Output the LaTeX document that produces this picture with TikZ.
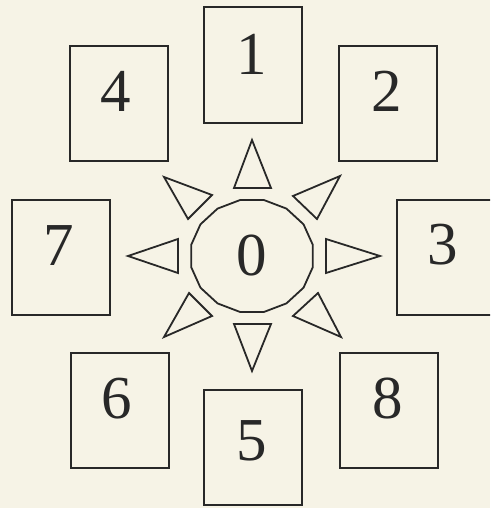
\documentclass[tikz,border=0pt]{standalone}
\usepackage{fontspec}
\setmainfont{Liberation Serif}
\definecolor{paper}{RGB}{246,243,230}
\definecolor{ink}{RGB}{40,40,40}
\begin{document}
\begin{tikzpicture}[x=1pt,y=-1pt,
  box/.style={draw=ink,line width=2pt,minimum width=98pt,minimum height=115pt,inner sep=0pt},
  num/.style={text=ink,font=\fontsize{61}{61}\selectfont,inner sep=0pt},
  tri/.style={draw=ink,line width=1.8pt,line join=miter}]
\useasboundingbox (0,0) rectangle (490,508);
\clip (0,0) rectangle (490,508);
\fill[paper] (0,0) rectangle (490,508);
% boxes
\node[box] (b1) at (252.5,65) {};
\node[box] (b4) at (118.5,103.5) {};
\node[box] (b2) at (387.5,103.5) {};
\node[box] (b7) at (60.5,257) {};
\node[box] (b3) at (445.5,257) {};
\node[box] (b6) at (119.5,410) {};
\node[box] (b8) at (388.5,410) {};
\node[box] (b5) at (253,447.5) {};
% numbers
\node[num] (n1) at (252,54) {1};
\node[num] (n4) at (116,91) {4};
\node[num] (n2) at (387,91) {2};
\node[num] (n7) at (59,246) {7};
\node[num] (n3) at (443,245) {3};
\node[num] (n6) at (117,399) {6};
\node[num] (n8) at (388,399) {8};
\node[num] (n5) at (252,441) {5};
\node[num] (n0) at (252,256) {0};
% central 16-gon
\draw[tri] plot[samples=17,domain=0:16,variable=\k]
  ({252+62*cos(11.25+22.5*\k)},{256-57*sin(11.25+22.5*\k)}) -- cycle;
% triangles
\draw[tri] (252,140) -- (271,188) -- (234,188) -- cycle;
\draw[tri] (252,371) -- (234,324) -- (271,324) -- cycle;
\draw[tri] (128,256) -- (178,239) -- (178,273) -- cycle;
\draw[tri] (380,256) -- (326,239) -- (326,273) -- cycle;
\draw[tri] (164,177) -- (212,195) -- (188,219) -- cycle;
\draw[tri] (340,176) -- (293,196) -- (317,219) -- cycle;
\draw[tri] (164,337) -- (189,293) -- (212,316) -- cycle;
\draw[tri] (341,337) -- (318,293) -- (293,316) -- cycle;
\end{tikzpicture}
\end{document}
